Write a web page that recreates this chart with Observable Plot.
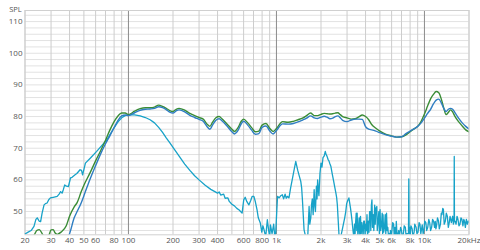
<!DOCTYPE html>
<html><head><meta charset="utf-8">
<script src="https://cdn.jsdelivr.net/npm/d3@7"></script>
<script src="https://cdn.jsdelivr.net/npm/@observablehq/plot@0.6"></script>
<style>
html,body{margin:0;padding:0;background:#fff;}
</style></head><body><div id="chart"></div>
<script>
// Frequency grid shared by the two response curves (Hz)
const freqs = [20,22,23,24,25,26,27,28,29,30,31,32,33,35,38,40,43,45,48,50,55,60,65,70,75,80,85,90,95,100,110,120,130,140,150,160,170,180,190,200,210,220,240,260,280,300,320,340,355,370,390,410,430,460,500,520,550,580,600,640,680,720,760,800,850,900,950,1000,1100,1200,1300,1400,1500,1600,1700,1800,1900,2000,2100,2200,2300,2400,2500,2600,2700,2800,3000,3200,3400,3600,3800,4000,4200,4400,4700,5000,5500,6000,6500,7000,7500,8000,8500,9000,9500,10000,10500,11000,11500,12000,12500,13000,13500,14000,14500,15000,15500,16000,17000,18000,19000,20000];
// Green response (dB SPL)
const green = [42,42,42.5,44,44.3,43.2,42,42,42.5,44.2,44.3,43.2,42.8,43.5,45.5,48.5,51.5,52.8,56.3,58.3,62.2,66,69.3,72.5,75.8,78.4,80.2,81.1,81.1,80.6,81.7,82.5,82.8,82.8,83.0,83.6,83.2,82.6,81.9,81.6,82.3,82.6,82.0,81.0,80.3,79.7,79.2,77.6,76.9,78.2,79.6,80.0,79.2,77.8,76.0,75.3,76.5,78.6,79.2,78.0,76.5,75.2,75.4,77.3,77.8,76.3,75.3,76.2,78.4,78.2,78.5,79.0,79.5,80.3,81.1,80.3,80.3,80.7,81.0,80.9,80.8,80.9,81.1,81.2,80.6,80.0,79.6,79.2,79.3,79.9,80.5,80.0,79.0,77.5,76.3,75.4,74.4,73.9,73.5,73.6,74.2,75.2,76.1,76.9,78.5,80.8,83.3,85.6,87.0,87.9,87.5,85.5,82.7,80.6,81.3,82.1,81.5,80.2,78.4,77.0,75.8,75.2];
// Blue response (dB SPL)
const blue = [40,40,40,40,40,40,40,40,40,40,40,40,40,40,41,43,48,50,52.8,55,60.2,64.5,68.3,71.4,74.0,76.5,78.8,80.2,80.5,80.3,81.2,82.0,82.3,82.4,82.6,83.1,82.8,82.2,81.4,81.1,81.8,82.1,81.5,80.4,79.7,79.1,78.5,76.8,76.0,77.3,78.8,79.3,78.6,77.2,75.2,74.5,75.6,77.8,78.5,77.3,75.7,74.4,74.6,76.6,77.0,75.5,74.5,75.6,77.7,77.6,77.8,78.3,78.9,79.5,80.2,79.6,79.4,79.8,80.1,79.8,79.3,79.5,80.0,80.2,79.6,78.8,78.4,78.9,79.2,79.2,79.1,76.8,76.0,75.8,75.4,74.9,74.2,73.8,73.5,73.6,74.6,75.4,76.1,76.9,78.0,79.5,81.0,82.3,84.0,85.2,85.5,84.3,82.6,81.6,82.3,82.6,82.3,81.4,79.5,78.0,76.9,76.1];
// Distortion curve: frequencies (Hz) and levels (dB)
const distFreqs = [20,21,22,23,23.7,24.2,24.9,25.5,26.1,26.9,27.5,28.2,29,29.7,31,33,34,34.8,35.6,36.3,37.1,38.1,39.3,40.6,41.6,43.6,44.8,47.1,48.2,49,51.2,55.4,61,64.2,71.3,79.5,85,90,95,100,110,120,130,140,150,160,170,180,190,200,220,240,260,280,300,330,360,400,410,420,440,450,470,480,500,520,540,560,586,601,615,630,651,670,686,704,721,739,754,778,796,810,824,846,868,886,900,911,934,958,975,989,1017,1043,1070,1096,1118,1144,1165,1185,1215,1246,1290,1320,1350,1393,1430,1460,1480,1498,1536,1575,1627,1662,1680,1706,1725,1747,1770,1798,1815,1834,1862,1880,1898,1918,1937,1968,2000,2030,2063,2100,2138,2165,2195,2230,2263,2300,2334,2380,2426,2470,2522,2550,2580,2615,2651,2720,2805,2892,2940,2982,3030,3087,3130,3167,3205,3242,3290,3332,3370,3400,3421,3460,3490,3510,3550,3584,3620,3660,3697,3740,3780,3812,3850,3890,3930,3970,4010,4052,4090,4130,4177,4220,4260,4306,4340,4380,4418,4460,4506,4550,4611,4650,4700,4768,4800,4865,4920,4960,5013,5060,5130,5180,5220,5250,5300,5372,5430,5480,5541,5600,5652,5720,5780,5826,5900,5960,6004,6100,6190,6250,6320,6400,6454,6520,6585,6700,6786,6900,6994,7100,7208,7300,7429,7520,7600,7800,7840,7880,7950,8017,8100,8264,8350,8518,8600,8779,8900,9048,9200,9326,9450,9661,9800,9910,10050,10215,10350,10529,10700,10850,11000,11180,11350,11524,11700,11830,11950,12070,12250,12444,12600,12826,13000,13127,13300,13432,13600,13845,14050,14270,14500,14708,14900,15050,15200,15500,15700,15850,15900,15950,16100,16357,16600,16860,17100,17376,17650,17908,18200,18450,18656,18900,19200,19500,19800,20000];
const dist = [42.9,43.5,44.0,45.3,47.5,48.0,47.0,46.8,49.5,52.1,52.5,52.7,53.8,54.3,54.5,54.8,55.5,56.3,55.8,56.9,58.4,58.0,57.9,60.6,60.8,61.6,62.0,63.2,63.0,61.6,65.3,66.9,69.0,70.2,72.6,76.3,78.3,79.6,80.3,80.5,80.5,80.2,79.7,79.0,78.0,76.6,75.0,73.3,71.8,70.3,67.5,65.0,63.0,61.3,60.0,58.3,57.0,55.8,56.2,55.2,55.5,54.2,54.3,53.2,52.3,51.8,51.0,50.5,49.5,53.7,54.5,53.2,52.1,53.5,54.8,54.8,53.0,50.6,48.0,46.4,43.5,45.5,44.3,42.0,47.4,44.0,42,45.8,43.0,46.0,42,43.5,54.8,54.3,55.0,55.3,54.0,55.5,54.2,54.8,54.3,57.4,61.0,63.5,65.8,63.0,61.0,59.5,57.5,53.7,44.3,42,42,51.6,46,48.0,52,54.0,49,56.9,52,50.0,58.0,54,60.0,57,55.0,62.0,65.3,64,67.0,67.5,69.0,68,67.5,66.5,66.0,65,64.2,62,60.0,58,55.8,54.5,52.0,47,42,42,45,48,50,52.5,53.5,54.3,52.5,51,49,47,44,42,46,43,46,49.5,44,49.5,42,44.5,48,42,48.5,43,46.5,45,42,47,47,42.5,46,44,49,42,47,43.5,50,50,44,52,53.7,45,49,44,52,46,51,51.6,44,47,50,43,50.6,44,46,49.5,43,49,43.5,45,49,43,49.5,44,45,42,43,42,44,42,43,46.5,46,42,45,42,46.9,43,42,44,42.5,45,44,42,43,45.5,45,42,43,43,60.3,43,45,42.5,45.5,44.5,42,43.5,46,45,43,43.5,46.5,46,43,45.8,43,44,47,46.5,44,45,47.5,46.5,44,45,47.5,47,45,46.9,44.5,45.5,48,47,44.5,46,49.5,49,51,50.6,46,47,49.5,48.5,45,46.5,48.5,47.5,46.5,48.5,46,47,67.4,47,47,46,48.5,47.4,45.5,46,48,47.5,45.5,47.5,46.9,45,47.5,46,47,46.5];

const xTicks = [20,30,40,50,60,80,100,200,300,400,600,800,1000,2000,3000,4000,5000,6000,8000,10000,20000];
const xTickLabels = ["20","30","40","50","60","80","100","200","300","400","600","800","1k","2k","3k","4k","5k","6k","8k","10k","20kHz"];
const yTicks = [50,60,70,80,90,100,110];
const minorX = [20,30,40,50,60,70,80,90,200,300,400,500,600,700,800,900,2000,3000,4000,5000,6000,7000,8000,9000,20000];
const majorX = [100,1000,10000];
const gridY = [44,46,48,50,52,54,56,58,60,62,64,66,68,70,72,74,76,78,80,82,84,86,88,90,92,94,96,98,100,102,104,106,108,110,112];

const respData = freqs.map((f, i) => ({f, g: green[i], b: blue[i]}));
const distData = distFreqs.map((f, i) => ({f, v: dist[i]}));
const xLabelData = xTicks.map((f, i) => ({f, label: xTickLabels[i]}));

const chart = Plot.plot({
  width: 480, height: 250,
  marginLeft: 24.5, marginRight: 11.5, marginTop: 10, marginBottom: 15.7,
  style: {fontFamily: "'Open Sans', 'Noto Sans', sans-serif", fontSize: "8px", color: "#555", background: "#fff", overflow: "visible"},
  x: {type: "log", domain: [20, 20000], label: null, axis: null},
  y: {domain: [42.65, 113.5], label: null},
  marks: [
    Plot.ruleY(gridY, {stroke: "#e2e2e2"}),
    Plot.ruleX(minorX, {stroke: "#cdcdcd"}),
    Plot.ruleX(majorX, {stroke: "#8c8c8c"}),
    Plot.frame({stroke: "#d0d0d0"}),
    Plot.line(distData, {x: "f", y: "v", stroke: "#17a2c8", strokeWidth: 1.3, clip: true}),
    Plot.line(respData, {x: "f", y: "g", stroke: "#3a8c36", strokeWidth: 1.4, curve: "monotone-x", clip: true}),
    Plot.line(respData, {x: "f", y: "b", stroke: "#2f7ec2", strokeWidth: 1.4, curve: "monotone-x", clip: true}),
    Plot.text(xLabelData, {x: "f", text: "label", frameAnchor: "bottom", dy: 8.5, textAnchor: "middle", fill: "#555"}),
    Plot.axisY({ticks: yTicks, tickSize: 0, tickPadding: 2.5, label: null}),
    Plot.text(["SPL"], {frameAnchor: "top-left", dx: -9.5, dy: -4, textAnchor: "middle", fontSize: 7.5, fill: "#555"})
  ]
});
document.getElementById("chart").append(chart);
</script>
</body></html>
